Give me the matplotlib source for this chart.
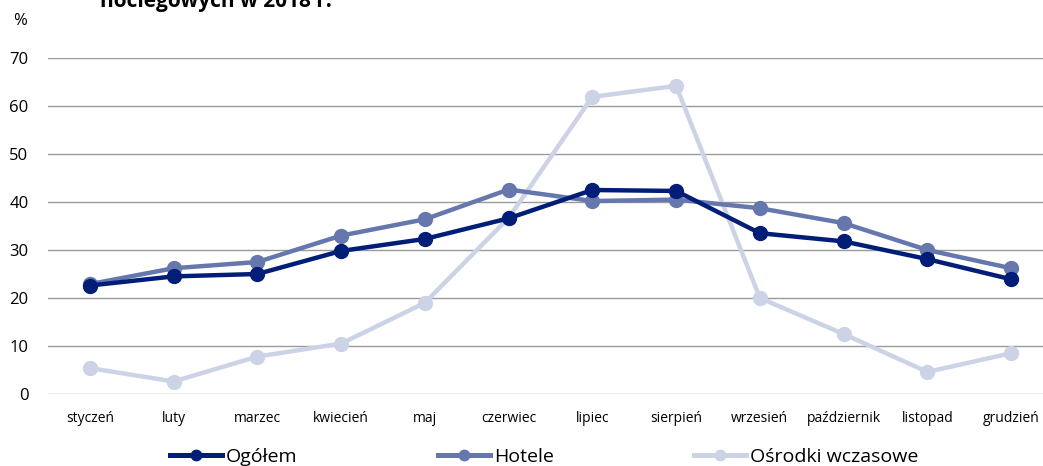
import matplotlib.pyplot as plt
from matplotlib.lines import Line2D

months = ["styczeń", "luty", "marzec", "kwiecień", "maj", "czerwiec", "lipiec",
          "sierpień", "wrzesień", "październik", "listopad", "grudzień"]
ogolem = [22.6, 24.5, 25.0, 29.8, 32.3, 36.6, 42.5, 42.3, 33.5, 31.8, 28.1, 23.9]
hotele = [22.9, 26.2, 27.5, 33.0, 36.4, 42.6, 40.2, 40.5, 38.7, 35.6, 30.0, 26.2]
osrodki = [5.4, 2.6, 7.8, 10.5, 19.0, 36.7, 61.9, 64.2, 20.0, 12.5, 4.6, 8.5]
yticks = [0, 10, 20, 30, 40, 50, 60, 70]
series = [("Ogółem", ogolem, "#001e78"),
          ("Hotele", hotele, "#6577ad"),
          ("Ośrodki wczasowe", osrodki, "#cdd3e6")]

plt.rcParams['font.family'] = ['Open Sans', 'DejaVu Sans']

W, H = 1043, 466
fig = plt.figure(figsize=(W / 100, H / 100), dpi=100)
ax = fig.add_axes([48 / W, (H - 394) / H, 1005 / W, 336 / H])

x = list(range(len(months)))
for tick in yticks:
    ax.axhline(tick, color="#9a9a9a", lw=1, zorder=0)

handles = []
for i, (name, vals, col) in enumerate(series):
    ax.plot(x, vals, color=col, lw=3.2, marker="o", ms=10, zorder=4 - i)
    handles.append(Line2D([], [], color=col, lw=3.6, marker="o", ms=7.5, label=name))

ax.set_xlim(-0.5, 11.5)
ax.set_ylim(0, 70)
ax.set_xticks(x)
ax.set_xticklabels(months, fontsize=10)
ax.set_yticks(yticks)
ax.tick_params(axis="y", labelsize=12, length=0, pad=14)
ax.tick_params(axis="x", length=0, pad=12)
for s in ax.spines.values():
    s.set_visible(False)

fig.text(20 / W, (H - 21) / H, "%", fontsize=12, ha="center", va="center")
fig.text(100 / W, (H - 7) / H, "noclegowych w 2018 r.", fontsize=15,
         fontweight="bold", ha="left", va="baseline")

fig.legend(handles=handles, loc="center left", bbox_to_anchor=(152 / W, 9 / H), ncol=3,
           frameon=False, fontsize=14, handlelength=2.7, handletextpad=0.2,
           columnspacing=7.2)

fig.savefig("out.png", dpi=100)
